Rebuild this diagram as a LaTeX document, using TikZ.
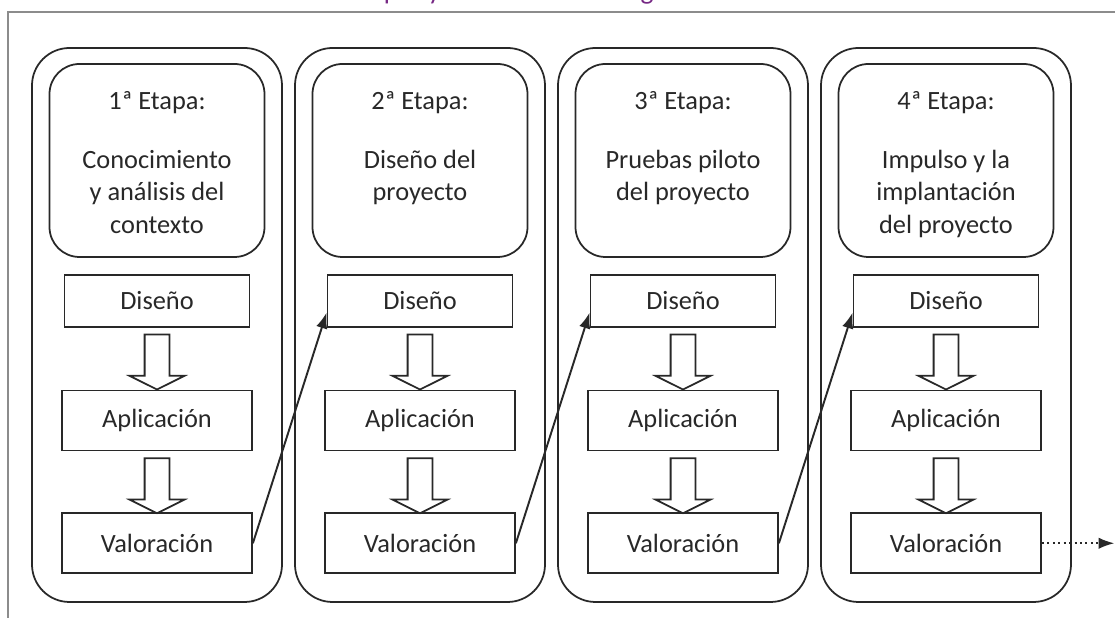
\documentclass[tikz,border=0pt]{standalone}
\usepackage{fontspec}
\setmainfont{Carlito}
\usetikzlibrary{arrows.meta,shapes.arrows,positioning}
\definecolor{tinta}{RGB}{40,40,40}
\definecolor{marco}{RGB}{140,140,140}
\definecolor{morado}{RGB}{118,40,132}

\begin{document}
\begin{tikzpicture}[>={Latex[length=9pt,width=6.5pt]},line width=1pt,color=tinta,
    every node/.style={font=\fontsize{15}{18.6}\selectfont},
    columna/.style={draw,rounded corners=0.75cm,minimum width=5cm,minimum height=11.08cm},
    etapa/.style={draw,rounded corners=0.6cm,minimum width=4.3cm,minimum height=3.86cm},
    fase/.style={draw,minimum width=3.8cm,minimum height=1.2cm,inner sep=0pt},
    diseno/.style={fase,minimum width=3.7cm,minimum height=1.04cm},
    bloque/.style={draw,single arrow,shape border rotate=270,anchor=tail,inner sep=0.23cm,
        minimum height=1.1cm,single arrow head extend=0.3cm,
        single arrow tip angle=127},
    titulo/.style={anchor=base},
    texto/.style={anchor=north,align=center,inner sep=0pt}]

  \useasboundingbox (0,0) rectangle (22.3,12.36);

  % marco y titulo cortado
  \draw[marco,line width=1.2pt] (0.16,0) |- (22.3,12.12);
  \node[anchor=base west,text=morado,font=\fontsize{15.6}{18}\selectfont] (tit) at (6.84,12.37)
      {Etapas y fases de la investigación-acción};

  % 1a etapa
  \node[columna] (c1) at (3.14,5.86) {};
  \node[etapa,below=0.32cm of c1.north] (e1) {};
  \node[titulo] (t1) at ([yshift=-0.92cm]e1.north) {1ª Etapa:};
  \node[texto] (x1) at ([yshift=-1.72cm]e1.north) {Conocimiento\\y análisis del\\contexto};
  \node[diseno,below=0.32cm of e1] (d1) {Diseño};
  \node[fase,below=1.24cm of d1] (a1) {Aplicación};
  \node[fase,below=1.22cm of a1] (v1) {Valoración};
  \node[bloque] (b1) at ([yshift=-0.12cm]d1.south) {};
  \node[bloque] (b2) at ([yshift=-0.12cm]a1.south) {};

  % 2a etapa
  \node[columna] (c2) at (8.40,5.86) {};
  \node[etapa,below=0.32cm of c2.north] (e2) {};
  \node[titulo] (t2) at ([yshift=-0.92cm]e2.north) {2ª Etapa:};
  \node[texto] (x2) at ([yshift=-1.72cm]e2.north) {Diseño del\\proyecto};
  \node[diseno,below=0.32cm of e2] (d2) {Diseño};
  \node[fase,below=1.24cm of d2] (a2) {Aplicación};
  \node[fase,below=1.22cm of a2] (v2) {Valoración};
  \node[bloque] (b3) at ([yshift=-0.12cm]d2.south) {};
  \node[bloque] (b4) at ([yshift=-0.12cm]a2.south) {};

  % 3a etapa
  \node[columna] (c3) at (13.66,5.86) {};
  \node[etapa,below=0.32cm of c3.north] (e3) {};
  \node[titulo] (t3) at ([yshift=-0.92cm]e3.north) {3ª Etapa:};
  \node[texto] (x3) at ([yshift=-1.72cm]e3.north) {Pruebas piloto\\del proyecto};
  \node[diseno,below=0.32cm of e3] (d3) {Diseño};
  \node[fase,below=1.24cm of d3] (a3) {Aplicación};
  \node[fase,below=1.22cm of a3] (v3) {Valoración};
  \node[bloque] (b5) at ([yshift=-0.12cm]d3.south) {};
  \node[bloque] (b6) at ([yshift=-0.12cm]a3.south) {};

  % 4a etapa
  \node[columna] (c4) at (18.92,5.86) {};
  \node[etapa,below=0.32cm of c4.north] (e4) {};
  \node[titulo] (t4) at ([yshift=-0.92cm]e4.north) {4ª Etapa:};
  \node[texto] (x4) at ([yshift=-1.72cm]e4.north) {Impulso y la\\implantación\\del proyecto};
  \node[diseno,below=0.32cm of e4] (d4) {Diseño};
  \node[fase,below=1.24cm of d4] (a4) {Aplicación};
  \node[fase,below=1.22cm of a4] (v4) {Valoración};
  \node[bloque] (b7) at ([yshift=-0.12cm]d4.south) {};
  \node[bloque] (b8) at ([yshift=-0.12cm]a4.south) {};

  \coordinate[right=1.45cm of v4] (fin);

  % paso de una etapa a la siguiente
  \draw[->,line width=1.1pt] (v1.east) -- ([yshift=0.3cm]d2.south west);
  \draw[->,line width=1.1pt] (v2.east) -- ([yshift=0.3cm]d3.south west);
  \draw[->,line width=1.1pt] (v3.east) -- ([yshift=0.3cm]d4.south west);
  \draw[->,dotted,line width=1.1pt] (v4.east) -- (fin);
\end{tikzpicture}
\end{document}
